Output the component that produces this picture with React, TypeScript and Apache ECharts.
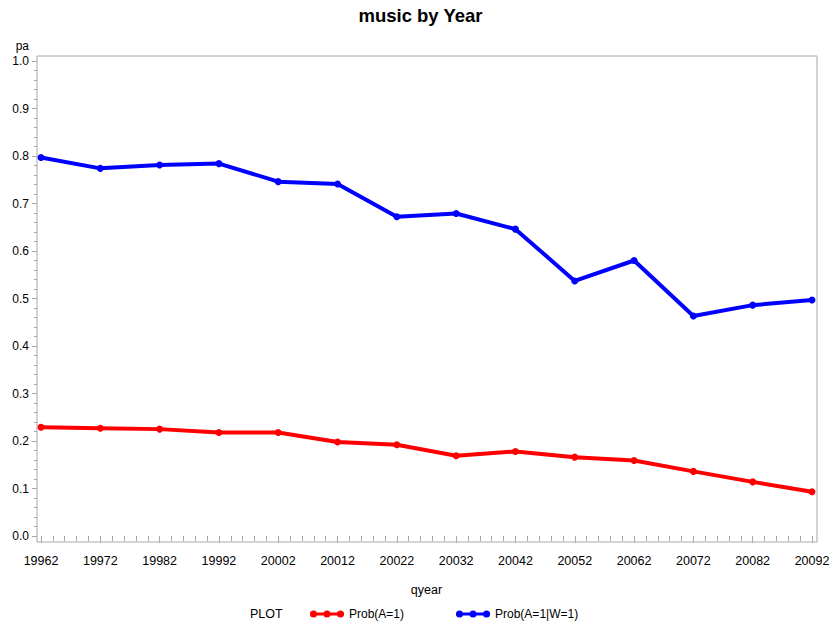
import React, { useEffect, useRef } from "react";
import * as echarts from "echarts";

const quarters = [
  "19962", "19972", "19982", "19992", "20002", "20012", "20022",
  "20032", "20042", "20052", "20062", "20072", "20082", "20092",
];
const probA = [
  0.229, 0.227, 0.225, 0.218, 0.218, 0.198, 0.192,
  0.169, 0.178, 0.166, 0.159, 0.136, 0.114, 0.093,
];
const probAgivenW = [
  0.797, 0.774, 0.781, 0.784, 0.746, 0.741, 0.672,
  0.679, 0.646, 0.537, 0.580, 0.463, 0.486, 0.497,
];
const yTicks = { min: 0, max: 1, interval: 0.1 };

const FONT = "'Liberation Sans', Arial, sans-serif";
const GRAY = "#a8a8a8";

const legendIcon =
  "path://M0,2.5L34,2.5L34,5.5L0,5.5Z" +
  "M0,4a3.5,3.5 0 1,1 7,0a3.5,3.5 0 1,1 -7,0Z" +
  "M13.5,4a3.5,3.5 0 1,1 7,0a3.5,3.5 0 1,1 -7,0Z" +
  "M27,4a3.5,3.5 0 1,1 7,0a3.5,3.5 0 1,1 -7,0Z";

export default function App() {
  const ref = useRef<HTMLDivElement>(null);
  useEffect(() => {
    if (!ref.current) return;
    const chart = echarts.init(ref.current, undefined, { renderer: "svg" });
    const toPairs = (arr: number[]) => arr.map((v, i) => [i, v]);
    chart.setOption({
      animation: false,
      backgroundColor: "#ffffff",
      textStyle: { fontFamily: FONT },
      title: {
        text: "music by Year",
        left: 420.5,
        textAlign: "center",
        top: 6,
        padding: 0,
        textStyle: { fontFamily: FONT, fontSize: 18.5, fontWeight: "bold", color: "#000" },
      },
      graphic: [
        {
          type: "rect",
          shape: { x: 37, y: 56, width: 780, height: 486 },
          style: { fill: "none", stroke: GRAY, lineWidth: 1 },
          silent: true,
          z: 0,
        },
        {
          type: "text",
          x: 250,
          y: 614,
          style: {
            text: "PLOT",
            fontFamily: FONT,
            fontSize: 12.5,
            fill: "#000",
            verticalAlign: "middle",
          },
        },
      ],
      legend: {
        left: 310,
        top: 608,
        padding: 0,
        itemWidth: 34,
        itemHeight: 8,
        itemGap: 52,
        textStyle: { fontFamily: FONT, fontSize: 12, color: "#000" },
        data: [
          { name: "Prob(A=1)", icon: legendIcon },
          { name: "Prob(A=1|W=1)", icon: legendIcon },
        ],
      },
      grid: [
        { left: 37, right: 17, top: 61, bottom: 89 },
        { left: 41, right: 22, top: 61, bottom: 89 },
      ],
      xAxis: [
        { gridIndex: 0, type: "value", min: 0, max: 1, show: false },
        {
          gridIndex: 1,
          type: "value",
          min: 0,
          max: quarters.length - 1,
          interval: 1,
          offset: 6,
          name: "qyear",
          nameLocation: "middle",
          nameGap: 41,
          nameTextStyle: { fontFamily: FONT, fontSize: 12.5, color: "#000" },
          axisLine: { show: false },
          axisTick: { show: true, length: 7, lineStyle: { color: GRAY } },
          minorTick: { show: true, splitNumber: 5, length: 5, lineStyle: { color: GRAY } },
          splitLine: { show: false },
          axisLabel: {
            margin: 12,
            fontFamily: FONT,
            fontSize: 12.5,
            color: "#000",
            formatter: (v: number) => quarters[Math.round(v)] ?? "",
          },
        },
      ],
      yAxis: [
        {
          gridIndex: 0,
          type: "value",
          min: yTicks.min,
          max: yTicks.max,
          interval: yTicks.interval,
          name: "pa",
          nameLocation: "end",
          nameGap: 9,
          nameTextStyle: {
            fontFamily: FONT,
            fontSize: 12,
            color: "#000",
            align: "right",
            padding: [0, 8, 0, 0],
          },
          axisLine: { show: false },
          axisTick: { show: true, length: 5, lineStyle: { color: GRAY } },
          minorTick: { show: true, splitNumber: 5, length: 3, lineStyle: { color: GRAY } },
          splitLine: { show: false },
          axisLabel: {
            margin: 8,
            fontFamily: FONT,
            fontSize: 12,
            color: "#000",
            formatter: (v: number) => v.toFixed(1),
          },
        },
        { gridIndex: 1, type: "value", min: yTicks.min, max: yTicks.max, show: false },
      ],
      series: [
        {
          name: "Prob(A=1)",
          type: "line",
          xAxisIndex: 1,
          yAxisIndex: 1,
          data: toPairs(probA),
          color: "#ff0000",
          lineStyle: { width: 4, color: "#ff0000" },
          itemStyle: { color: "#ff0000" },
          symbol: "circle",
          symbolSize: 7,
          z: 3,
        },
        {
          name: "Prob(A=1|W=1)",
          type: "line",
          xAxisIndex: 1,
          yAxisIndex: 1,
          data: toPairs(probAgivenW),
          color: "#0000ff",
          lineStyle: { width: 4, color: "#0000ff" },
          itemStyle: { color: "#0000ff" },
          symbol: "circle",
          symbolSize: 7,
          z: 3,
        },
      ],
    });
    return () => chart.dispose();
  }, []);
  return (
    <div
      ref={ref}
      style={{ position: "fixed", left: 0, top: 0, width: 834, height: 625 }}
    />
  );
}
